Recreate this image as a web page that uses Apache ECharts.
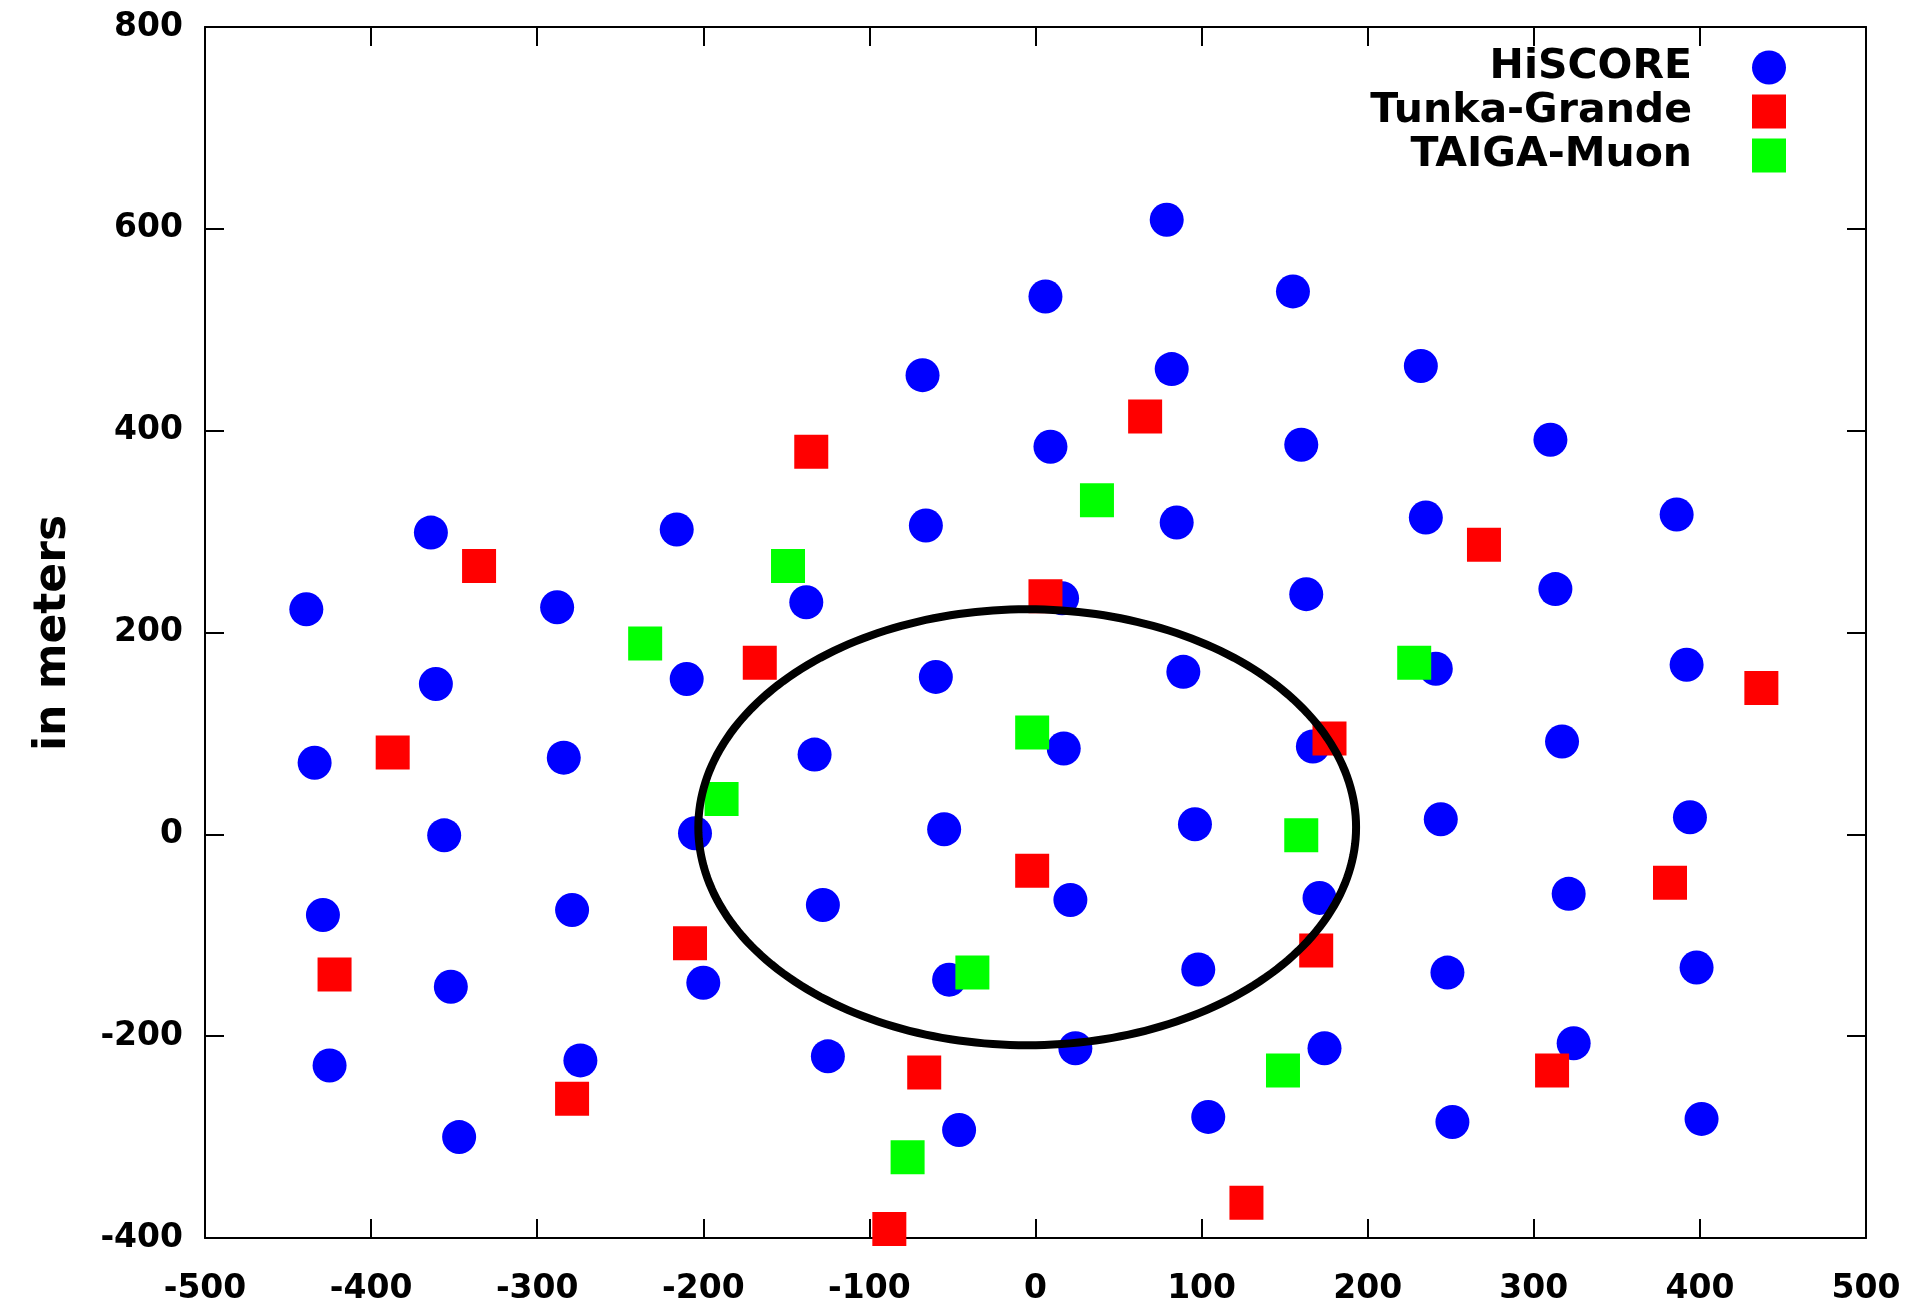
<!DOCTYPE html>
<html>
<head>
<meta charset="utf-8">
<title>Detector layout</title>
<script src="https://cdn.jsdelivr.net/npm/echarts@6/dist/echarts.min.js"></script>
<style>
  html, body { margin: 0; padding: 0; background: #fff; }
  #chart { width: 1916px; height: 1307px; }
</style>
</head>
<body>
<div id="chart"></div>
<script>
// Station positions in meters, [x, y]
const hiscore = [
  [79, 609], [6, 533], [155, 538],
  [-68, 455], [82, 461], [232, 464],
  [9, 384], [160, 386], [310, 391],
  [-364, 299], [-216, 302], [-66, 306], [85, 309], [235, 314], [386, 317],
  [-439, 223], [-288, 225], [-138, 230], [16, 234], [163, 238], [313, 243],
  [-361, 149], [-210, 154], [-60, 156], [89, 161], [241, 164], [392, 168],
  [-434, 71], [-284, 76], [-133, 79], [17, 85], [167, 87], [317, 92],
  [-356, -1], [-205, 1], [-55, 5], [96, 10], [244, 15], [394, 17],
  [-429, -80], [-279, -75], [-128, -70], [21, -65], [171, -63], [321, -59],
  [-352, -151], [-200, -147], [-52, -144], [98, -134], [248, -137], [398, -132],
  [-425, -229], [-274, -224], [-125, -220], [24, -212], [174, -212], [324, -207],
  [-347, -300], [-46, -293], [104, -280], [251, -285], [401, -282]
];
const tunkaGrande = [
  [-135, 379], [66, 414], [-335, 266], [270, 287], [6, 236], [-166, 170],
  [-387, 81], [177, 95], [437, 145], [-2, -36], [382, -48], [-208, -108],
  [169, -115], [-422, -139], [-67, -236], [311, -234], [-279, -262],
  [127, -365], [-88, -391]
];
const taigaMuon = [
  [37, 331], [-149, 266], [-235, 189], [228, 170], [-2, 101], [-189, 35],
  [160, -1], [-38, -137], [149, -234], [-77, -320]
];
// Outlined region: [centerX, centerY, radiusX, radiusY] in meters
const region = [[-5, 7, 198, 216]];

const xTicks = { min: -500, max: 500, step: 100 };
const yTicks = { min: -400, max: 800, step: 200 };

const FONT = 'DejaVu Sans';
const axisLine = { show: true, onZero: false, lineStyle: { color: '#000', width: 2 } };
const tickStyle = { show: true, inside: true, length: 19, lineStyle: { color: '#000', width: 2 } };
const labelStyle = { fontFamily: FONT, fontWeight: 'bold', fontSize: 33, color: '#000' };

const chart = echarts.init(document.getElementById('chart'), null, { renderer: 'canvas' });

chart.setOption({
  animation: false,
  backgroundColor: '#fff',
  grid: { left: 205, right: 50, top: 27, bottom: 69, containLabel: false },
  xAxis: [
    { type: 'value', position: 'bottom', min: xTicks.min, max: xTicks.max, interval: xTicks.step,
      axisLine, axisTick: tickStyle, splitLine: { show: false },
      axisLabel: Object.assign({ margin: 35 }, labelStyle) },
    { type: 'value', position: 'top', min: xTicks.min, max: xTicks.max, interval: xTicks.step,
      axisLine, axisTick: tickStyle, splitLine: { show: false }, axisLabel: { show: false } }
  ],
  yAxis: [
    { type: 'value', position: 'left', min: yTicks.min, max: yTicks.max, interval: yTicks.step,
      axisLine, axisTick: tickStyle, splitLine: { show: false },
      axisLabel: Object.assign({ margin: 22 }, labelStyle) },
    { type: 'value', position: 'right', min: yTicks.min, max: yTicks.max, interval: yTicks.step,
      axisLine, axisTick: tickStyle, splitLine: { show: false }, axisLabel: { show: false } }
  ],
  legend: {
    orient: 'vertical',
    right: 130,
    top: 47,
    align: 'right',
    padding: 0,
    itemWidth: 34,
    itemHeight: 34,
    itemGap: 3,
    selectedMode: false,
    textStyle: { fontFamily: FONT, fontWeight: 'bold', fontSize: 41, color: '#000',
                 lineHeight: 34, padding: [0, 55, 0, 0] },
    data: [
      { name: 'HiSCORE', icon: 'circle' },
      { name: 'Tunka-Grande', icon: 'rect' },
      { name: 'TAIGA-Muon', icon: 'rect' }
    ]
  },
  graphic: [{
    type: 'text',
    x: 54, y: 633,
    rotation: Math.PI / 2,
    style: { text: 'in meters', fontFamily: FONT, fontWeight: 'bold', fontSize: 44,
             fill: '#000', align: 'center', verticalAlign: 'middle' }
  }],
  series: [
    { name: 'HiSCORE', type: 'scatter', symbol: 'circle', symbolSize: 34, z: 2,
      itemStyle: { color: '#0000ff', opacity: 1 }, data: hiscore },
    { name: 'Tunka-Grande', type: 'scatter', symbol: 'rect', symbolSize: 34, z: 3,
      itemStyle: { color: '#ff0000', opacity: 1 }, data: tunkaGrande },
    { name: 'TAIGA-Muon', type: 'scatter', symbol: 'rect', symbolSize: 34, z: 4,
      itemStyle: { color: '#00ff00', opacity: 1 }, data: taigaMuon },
    { name: 'region', type: 'custom', z: 5, silent: true,
      renderItem: function (params, api) {
        const c = api.coord([api.value(0), api.value(1)]);
        const s = api.size([api.value(2), api.value(3)]);
        const pts = [];
        for (let i = 0; i < 240; i++) {
          const t = i / 240 * Math.PI * 2;
          pts.push([c[0] + s[0] * Math.cos(t), c[1] + s[1] * Math.sin(t)]);
        }
        return { type: 'polygon', shape: { points: pts },
                 style: { fill: 'none', stroke: '#000', lineWidth: 8 } };
      },
      data: region }
  ]
});
</script>
</body>
</html>
